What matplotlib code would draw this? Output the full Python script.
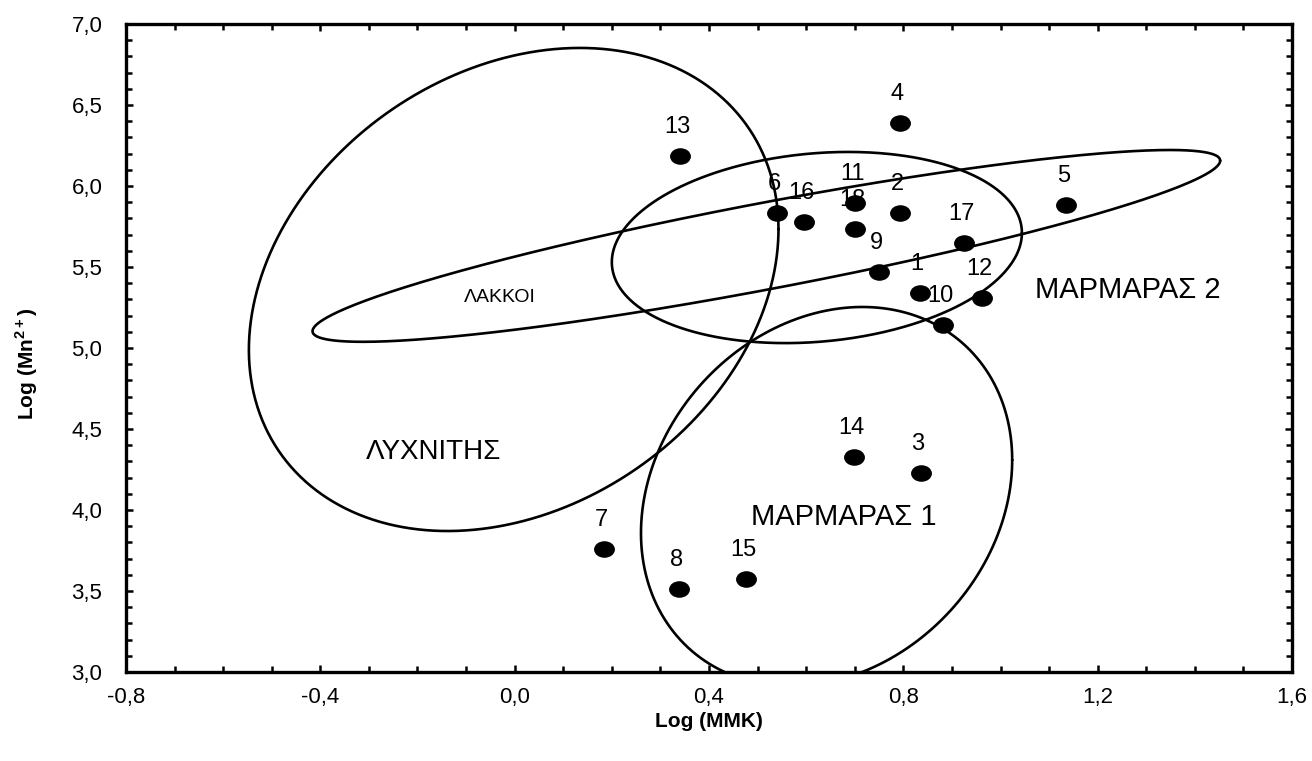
import numpy as np
import matplotlib
matplotlib.use("Agg")
import matplotlib.pyplot as plt
from matplotlib.ticker import MultipleLocator, FuncFormatter
from matplotlib.path import Path
from matplotlib.transforms import Affine2D

plt.rcParams['font.family'] = ['Liberation Sans', 'DejaVu Sans']
plt.rcParams['mathtext.fontset'] = 'custom'
plt.rcParams['mathtext.rm'] = 'Liberation Sans'
plt.rcParams['mathtext.bf'] = 'Liberation Sans:bold'

# ---- data ----
point_ids = ['1', '2', '3', '4', '5', '6', '7', '8', '9', '10',
             '11', '12', '13', '14', '15', '16', '17', '18']
log_mmk = [0.834, 0.793, 0.836, 0.793, 1.135, 0.540, 0.184, 0.338, 0.750, 0.882,
           0.701, 0.962, 0.340, 0.699, 0.476, 0.596, 0.925, 0.701]
log_mn = [5.340, 5.833, 4.228, 6.389, 5.883, 5.833, 3.759, 3.512, 5.469, 5.142,
          5.895, 5.309, 6.185, 4.327, 3.574, 5.778, 5.648, 5.735]

# confidence-ellipse parameters (data units)
ell_names = ['ΛΥΧΝΙΤΗΣ', 'ΛΑΚΚΟΙ', 'ΜΑΡΜΑΡΑΣ 2', 'ΜΑΡΜΑΡΑΣ 1']
ell_cx = [-0.002, 0.518, 0.622, 0.642]
ell_cy = [5.361, 5.630, 5.620, 4.083]
ell_rx = [0.545, 0.934, 0.422, 0.382]
ell_ry = [1.491, 0.592, 0.590, 1.170]
ell_rho = [0.25, 0.889, 0.153, 0.193]

# group label positions (data units) and sizes
grp_x = [-0.166, -0.030, 1.261, 0.678]
grp_y = [4.358, 5.309, 5.358, 3.957]
grp_size = [20, 14, 21, 21]

x_ticks = [-0.8, -0.4, 0.0, 0.4, 0.8, 1.2, 1.6]
y_ticks = [3.0, 3.5, 4.0, 4.5, 5.0, 5.5, 6.0, 6.5, 7.0]

# ---- figure ----
fig = plt.figure(figsize=(13.12, 7.61), dpi=100)
ax = fig.add_axes([0.096, 0.117, 0.8888, 0.8515])
ax.set_xlim(-0.8, 1.6)
ax.set_ylim(3.0, 7.0)

t = np.linspace(0, 2 * np.pi, 600)
for cx, cy, rx, ry, rho in zip(ell_cx, ell_cy, ell_rx, ell_ry, ell_rho):
    ex = cx + rx * np.cos(t)
    ey = cy + ry * (rho * np.cos(t) + np.sqrt(1 - rho ** 2) * np.sin(t))
    ax.plot(ex, ey, color='black', lw=1.9, solid_capstyle='round')

# elliptical dot marker
dot = Path.unit_circle().transformed(Affine2D().scale(1.0, 0.78))
ax.plot(log_mmk, log_mn, linestyle='none', marker=dot, markersize=14,
        color='black', zorder=5)

for pid, x, y in zip(point_ids, log_mmk, log_mn):
    ax.annotate(pid, (x, y), xytext=(-2, 21), textcoords='offset points',
                ha='center', va='center', fontsize=17, color='black', zorder=6)

for name, gx, gy, gs in zip(ell_names, grp_x, grp_y, grp_size):
    ax.text(gx, gy, name, ha='center', va='center', fontsize=gs, color='black')

# ---- axes styling ----
fmt = FuncFormatter(lambda v, p: f"{v:.1f}".replace('.', ','))
ax.set_xticks(x_ticks)
ax.set_yticks(y_ticks)
ax.xaxis.set_major_formatter(fmt)
ax.yaxis.set_major_formatter(fmt)
ax.xaxis.set_minor_locator(MultipleLocator(0.1))
ax.yaxis.set_minor_locator(MultipleLocator(0.1))
ax.tick_params(which='both', direction='in', top=True, right=True,
               width=1.8, color='black')
ax.tick_params(which='major', length=5)
ax.tick_params(which='minor', length=4)
ax.tick_params(axis='x', which='major', labelsize=16, pad=11)
ax.tick_params(axis='y', which='major', labelsize=16, pad=17)
for sp in ax.spines.values():
    sp.set_linewidth(2.4)
    sp.set_color('black')

ax.set_xlabel('Log (MMK)', fontsize=15, fontweight='bold')
ax.set_ylabel(r'Log (Mn$^{\mathbf{2+}}$)', fontsize=15, fontweight='bold')
ax.xaxis.set_label_coords(0.5, -0.062)
ax.yaxis.set_label_coords(-0.074, 0.475)

fig.savefig('out.png', dpi=100, facecolor='white')
